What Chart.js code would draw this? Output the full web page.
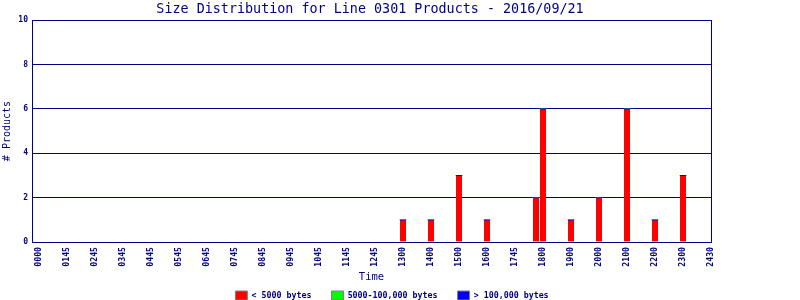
<!DOCTYPE html>
<html>
<head>
<meta charset="utf-8">
<script src="https://cdn.jsdelivr.net/npm/chart.js@4.4.0/dist/chart.umd.min.js"></script>
<style>
  html, body { margin: 0; padding: 0; background: #fff; }
  #wrap { width: 800px; height: 300px; }
</style>
</head>
<body>
<div id="wrap"><canvas id="grafica"></canvas></div>
<script>
// Datos
const horas = [13, 14, 15, 16, 17.75, 18, 19, 20, 21, 22, 23];
const menos5000 = [1, 1, 3, 1, 2, 6, 1, 2, 6, 1, 3];
const entre5000y100000 = [0, 0, 0, 0, 0, 0, 0, 0, 0, 0, 0];
const mas100000 = [0, 0, 0, 0, 0, 0, 0, 0, 0, 0, 0];
const etiquetasX = ['0000', '0145', '0245', '0345', '0445', '0545', '0645', '0745', '0845',
  '0945', '1045', '1145', '1245', '1300', '1400', '1500', '1600', '1745', '1800', '1900',
  '2000', '2100', '2200', '2300', '2430'];

const azul = '#000080';
const mono = 'DejaVu Sans Mono, monospace';

function puntos(valores) {
  return valores.map((v, i) => ({ x: horas[i], y: v }));
}

// ajusta titulo y leyenda como en la imagen original
const ajustes = {
  id: 'ajustes',
  beforeLayout(chart) {
    const lg = chart.legend;
    if (lg && !lg._ajustado) {
      const fitOrig = lg.fit.bind(lg);
      lg.fit = function () { fitOrig(); this.height = 14; };
      lg._ajustado = true;
    }
  },
  afterLayout(chart) {
    chart.titleBlock.left = 0;
    chart.titleBlock.right = 740;
    chart.legend.left = 0;
    chart.legend.right = 784;
    chart.legend.top = 271;
  }
};

const ctx = document.getElementById('grafica');
new Chart(ctx, {
  type: 'bar',
  data: {
    datasets: [{
      label: '< 5000 bytes',
      data: puntos(menos5000),
      backgroundColor: '#ff0000',
      borderColor: '#0000ff',
      borderWidth: { top: 1, right: 0, bottom: 0, left: 0 },
      borderSkipped: false
    }, {
      label: '5000-100,000 bytes',
      data: puntos(entre5000y100000),
      backgroundColor: '#00ff00',
      borderWidth: 0
    }, {
      label: '> 100,000 bytes',
      data: puntos(mas100000),
      backgroundColor: '#0000ff',
      borderWidth: 0
    }]
  },
  plugins: [ajustes],
  options: {
    responsive: true,
    maintainAspectRatio: false,
    animation: false,
    barThickness: 6,
    layout: { padding: 0 },
    scales: {
      x: {
        type: 'linear',
        stacked: true,
        min: -0.25,
        max: 24,
        offset: false,
        afterFit: (scale) => { scale.height = 44; },
        grid: { display: false, drawTicks: false },
        border: { color: azul, width: 1 },
        afterBuildTicks: (scale) => {
          scale.ticks = etiquetasX.map((t, i) => ({ value: i }));
        },
        ticks: {
          autoSkip: false,
          minRotation: 90,
          maxRotation: 90,
          padding: 5,
          color: azul,
          font: { size: 8.2, family: mono, weight: 'bold' },
          callback: (v) => etiquetasX[v]
        },
        title: {
          display: true,
          text: 'Time',
          color: azul,
          font: { size: 10.5, family: mono },
          padding: { top: 2, bottom: 2 }
        }
      },
      y: {
        stacked: true,
        min: 0,
        max: 10,
        afterFit: (scale) => { scale.width = 32; },
        grid: { color: azul, lineWidth: 1, drawTicks: false },
        border: { color: azul, width: 1 },
        ticks: {
          stepSize: 2,
          padding: 4,
          color: azul,
          font: { size: 8, family: mono, weight: 'bold' }
        },
        title: {
          display: true,
          text: '# Products',
          color: azul,
          font: { size: 10, family: mono },
          padding: 1
        }
      },
      y2: {
        position: 'right',
        min: 0,
        max: 10,
        afterFit: (scale) => { scale.width = 89; },
        grid: { display: false, drawTicks: false },
        border: { color: azul, width: 1 },
        ticks: { display: false }
      }
    },
    plugins: {
      title: {
        display: true,
        text: 'Size Distribution for Line 0301 Products - 2016/09/21',
        color: azul,
        font: { size: 13.4, family: mono, weight: 'normal', lineHeight: 1.2 },
        padding: { top: 1, bottom: 3 }
      },
      legend: {
        position: 'bottom',
        labels: {
          boxWidth: 12,
          boxHeight: 9,
          padding: 20,
          color: azul,
          font: { size: 8.3, family: mono, weight: 'bold' },
          generateLabels: (chart) => chart.data.datasets.map((d, i) => ({
            text: d.label,
            fillStyle: d.backgroundColor,
            strokeStyle: '#808080',
            lineWidth: 1,
            fontColor: azul,
            datasetIndex: i,
            hidden: false
          }))
        }
      },
      tooltip: { enabled: false }
    }
  }
});
</script>
</body>
</html>
